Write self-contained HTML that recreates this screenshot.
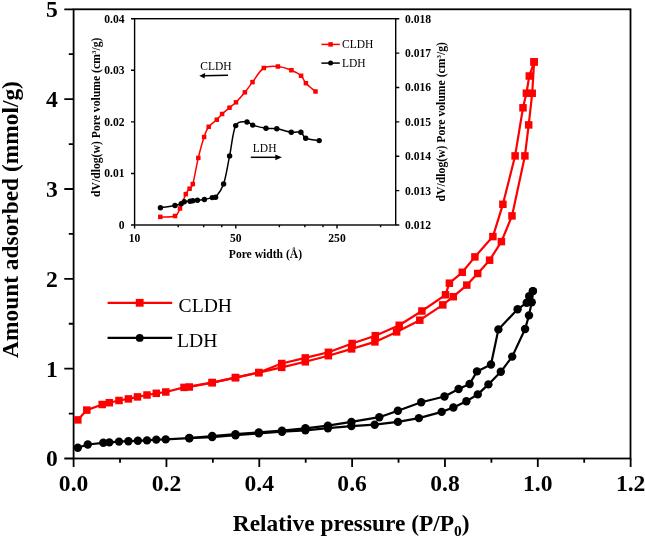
<!DOCTYPE html><html><head><meta charset="utf-8"><style>html,body{margin:0;padding:0;background:#fff;width:645px;height:539px;overflow:hidden}svg{display:block;will-change:transform}text{font-family:"Liberation Serif",serif}.b{font-weight:bold}</style></head><body>
<svg width="645" height="539" viewBox="0 0 645 539">
<rect width="645" height="539" fill="#fff"/>
<rect x="73.6" y="9.3" width="556.9" height="449.2" fill="none" stroke="#000" stroke-width="1.8"/>
<path d="M73.60,458.5V467.0 M120.02,458.5V462.7 M166.44,458.5V467.0 M212.86,458.5V462.7 M259.28,458.5V467.0 M305.70,458.5V462.7 M352.12,458.5V467.0 M398.54,458.5V462.7 M444.96,458.5V467.0 M491.38,458.5V462.7 M537.80,458.5V467.0 M584.22,458.5V462.7 M630.64,458.5V467.0 M73.6,458.50H64.3 M73.6,413.58H68.8 M73.6,368.66H64.3 M73.6,323.74H68.8 M73.6,278.82H64.3 M73.6,233.90H68.8 M73.6,188.98H64.3 M73.6,144.06H68.8 M73.6,99.14H64.3 M73.6,54.22H68.8 M73.6,9.30H64.3" stroke="#000" stroke-width="1.8" fill="none"/>
<text class="b" x="73.60" y="491.3" font-size="23.6" text-anchor="middle">0.0</text>
<text class="b" x="166.44" y="491.3" font-size="23.6" text-anchor="middle">0.2</text>
<text class="b" x="259.28" y="491.3" font-size="23.6" text-anchor="middle">0.4</text>
<text class="b" x="352.12" y="491.3" font-size="23.6" text-anchor="middle">0.6</text>
<text class="b" x="444.96" y="491.3" font-size="23.6" text-anchor="middle">0.8</text>
<text class="b" x="537.80" y="491.3" font-size="23.6" text-anchor="middle">1.0</text>
<text class="b" x="630.64" y="491.3" font-size="23.6" text-anchor="middle">1.2</text>
<text class="b" x="57.8" y="466.40" font-size="23.6" text-anchor="end">0</text>
<text class="b" x="57.8" y="376.56" font-size="23.6" text-anchor="end">1</text>
<text class="b" x="57.8" y="286.72" font-size="23.6" text-anchor="end">2</text>
<text class="b" x="57.8" y="196.88" font-size="23.6" text-anchor="end">3</text>
<text class="b" x="57.8" y="107.04" font-size="23.6" text-anchor="end">4</text>
<text class="b" x="57.8" y="17.20" font-size="23.6" text-anchor="end">5</text>
<text class="b" x="351.2" y="530.6" font-size="23.4" text-anchor="middle">Relative pressure (P/P<tspan font-size="15.5" dy="5.3">0</tspan><tspan dy="-5.3">)</tspan></text>
<text class="b" transform="translate(17.6,219.5) rotate(-90)" font-size="23.4" text-anchor="middle">Amount adsorbed (mmol/g)</text>
<path d="M107.6,302.8H172.2" stroke="#f00" stroke-width="2.2"/>
<rect x="135.80" y="298.90" width="7.8" height="7.8" fill="#f00"/>
<text x="178.6" y="312.4" font-size="19.6">CLDH</text>
<path d="M107.6,337.9H172.2" stroke="#000" stroke-width="2.2"/>
<circle cx="139.70" cy="337.90" r="3.9" fill="#000"/>
<text x="177.1" y="346.9" font-size="19.6">LDH</text>
<polyline points="77.8,419.9 86.8,410.1 102.2,404.5 109.3,402.7 119.0,400.5 128.4,398.9 137.5,396.9 147.0,395.0 156.3,393.3 165.8,392.0 184.0,387.4 212.2,382.6 235.5,377.6 258.8,372.6 281.7,367.4 305.3,361.8 328.4,355.7 351.6,348.9 374.9,341.9 396.6,331.9 419.8,320.2 442.8,304.9 453.3,296.7 466.8,285.1 477.7,273.5 489.6,260.2 501.4,241.6 512.0,215.9 524.9,155.9 528.7,124.9 532.2,93.3 534.1,61.9" fill="none" stroke="#f00" stroke-width="2.2" stroke-linejoin="round"/>
<polyline points="534.1,61.9 529.3,76.0 526.4,93.2 523.0,107.8 515.1,155.9 502.9,204.3 492.9,236.6 474.9,256.9 462.3,272.3 449.4,283.2 445.5,294.8 421.9,311.0 399.2,325.3 375.3,335.7 352.1,343.5 328.4,352.3 305.3,357.9 281.7,363.5 258.8,372.6 235.5,377.6 212.2,382.6 189.3,387.0" fill="none" stroke="#f00" stroke-width="2.2" stroke-linejoin="round"/>
<polyline points="77.8,447.7 87.8,444.5 103.3,442.8 109.3,442.4 119.0,441.6 128.4,441.2 137.9,440.8 147.0,440.4 156.3,439.6 165.7,439.4 189.3,438.2 212.2,437.1 235.5,435.2 258.8,433.4 282.0,431.7 305.4,430.3 327.9,428.2 351.4,426.1 374.7,424.7 397.9,421.9 418.9,418.1 441.7,411.9 453.4,407.5 466.4,401.3 477.8,394.4 488.4,384.4 500.8,371.8 512.2,356.6 525.1,329.0 529.0,315.4 531.7,302.3 532.9,291.1" fill="none" stroke="#000" stroke-width="2.2" stroke-linejoin="round"/>
<polyline points="532.9,291.1 529.2,296.2 526.7,302.8 517.6,309.2 498.4,329.4 491.0,364.5 477.0,371.4 469.6,384.0 458.6,389.0 444.5,396.5 421.2,402.3 397.9,410.7 379.3,417.2 351.4,421.9 327.9,425.7 305.4,428.3 282.0,430.6 258.8,432.4 235.5,434.2 212.2,436.0 189.3,438.0" fill="none" stroke="#000" stroke-width="2.2" stroke-linejoin="round"/>
<rect x="74.05" y="416.15" width="7.5" height="7.5" fill="#f00"/><rect x="83.05" y="406.35" width="7.5" height="7.5" fill="#f00"/><rect x="98.45" y="400.75" width="7.5" height="7.5" fill="#f00"/><rect x="105.55" y="398.95" width="7.5" height="7.5" fill="#f00"/><rect x="115.25" y="396.75" width="7.5" height="7.5" fill="#f00"/><rect x="124.65" y="395.15" width="7.5" height="7.5" fill="#f00"/><rect x="133.75" y="393.15" width="7.5" height="7.5" fill="#f00"/><rect x="143.25" y="391.25" width="7.5" height="7.5" fill="#f00"/><rect x="152.55" y="389.55" width="7.5" height="7.5" fill="#f00"/><rect x="162.05" y="388.25" width="7.5" height="7.5" fill="#f00"/><rect x="180.25" y="383.65" width="7.5" height="7.5" fill="#f00"/><rect x="208.45" y="378.85" width="7.5" height="7.5" fill="#f00"/><rect x="231.75" y="373.85" width="7.5" height="7.5" fill="#f00"/><rect x="255.05" y="368.85" width="7.5" height="7.5" fill="#f00"/><rect x="277.95" y="363.65" width="7.5" height="7.5" fill="#f00"/><rect x="301.55" y="358.05" width="7.5" height="7.5" fill="#f00"/><rect x="324.65" y="351.95" width="7.5" height="7.5" fill="#f00"/><rect x="347.85" y="345.15" width="7.5" height="7.5" fill="#f00"/><rect x="371.15" y="338.15" width="7.5" height="7.5" fill="#f00"/><rect x="392.85" y="328.15" width="7.5" height="7.5" fill="#f00"/><rect x="416.05" y="316.45" width="7.5" height="7.5" fill="#f00"/><rect x="439.05" y="301.15" width="7.5" height="7.5" fill="#f00"/><rect x="449.55" y="292.95" width="7.5" height="7.5" fill="#f00"/><rect x="463.05" y="281.35" width="7.5" height="7.5" fill="#f00"/><rect x="473.95" y="269.75" width="7.5" height="7.5" fill="#f00"/><rect x="485.85" y="256.45" width="7.5" height="7.5" fill="#f00"/><rect x="497.65" y="237.85" width="7.5" height="7.5" fill="#f00"/><rect x="508.25" y="212.15" width="7.5" height="7.5" fill="#f00"/><rect x="521.15" y="152.15" width="7.5" height="7.5" fill="#f00"/><rect x="524.95" y="121.15" width="7.5" height="7.5" fill="#f00"/><rect x="528.45" y="89.55" width="7.5" height="7.5" fill="#f00"/><rect x="530.35" y="58.15" width="7.5" height="7.5" fill="#f00"/>
<rect x="530.35" y="58.15" width="7.5" height="7.5" fill="#f00"/><rect x="525.55" y="72.25" width="7.5" height="7.5" fill="#f00"/><rect x="522.65" y="89.45" width="7.5" height="7.5" fill="#f00"/><rect x="519.25" y="104.05" width="7.5" height="7.5" fill="#f00"/><rect x="511.35" y="152.15" width="7.5" height="7.5" fill="#f00"/><rect x="499.15" y="200.55" width="7.5" height="7.5" fill="#f00"/><rect x="489.15" y="232.85" width="7.5" height="7.5" fill="#f00"/><rect x="471.15" y="253.15" width="7.5" height="7.5" fill="#f00"/><rect x="458.55" y="268.55" width="7.5" height="7.5" fill="#f00"/><rect x="445.65" y="279.45" width="7.5" height="7.5" fill="#f00"/><rect x="441.75" y="291.05" width="7.5" height="7.5" fill="#f00"/><rect x="418.15" y="307.25" width="7.5" height="7.5" fill="#f00"/><rect x="395.45" y="321.55" width="7.5" height="7.5" fill="#f00"/><rect x="371.55" y="331.95" width="7.5" height="7.5" fill="#f00"/><rect x="348.35" y="339.75" width="7.5" height="7.5" fill="#f00"/><rect x="324.65" y="348.55" width="7.5" height="7.5" fill="#f00"/><rect x="301.55" y="354.15" width="7.5" height="7.5" fill="#f00"/><rect x="277.95" y="359.75" width="7.5" height="7.5" fill="#f00"/><rect x="255.05" y="368.85" width="7.5" height="7.5" fill="#f00"/><rect x="231.75" y="373.85" width="7.5" height="7.5" fill="#f00"/><rect x="208.45" y="378.85" width="7.5" height="7.5" fill="#f00"/><rect x="185.55" y="383.25" width="7.5" height="7.5" fill="#f00"/>
<circle cx="77.80" cy="447.70" r="4.2" fill="#000"/><circle cx="87.80" cy="444.50" r="4.2" fill="#000"/><circle cx="103.30" cy="442.80" r="4.2" fill="#000"/><circle cx="109.30" cy="442.40" r="4.2" fill="#000"/><circle cx="119.00" cy="441.60" r="4.2" fill="#000"/><circle cx="128.40" cy="441.20" r="4.2" fill="#000"/><circle cx="137.90" cy="440.80" r="4.2" fill="#000"/><circle cx="147.00" cy="440.40" r="4.2" fill="#000"/><circle cx="156.30" cy="439.60" r="4.2" fill="#000"/><circle cx="165.70" cy="439.40" r="4.2" fill="#000"/><circle cx="189.30" cy="438.20" r="4.2" fill="#000"/><circle cx="212.20" cy="437.10" r="4.2" fill="#000"/><circle cx="235.50" cy="435.20" r="4.2" fill="#000"/><circle cx="258.80" cy="433.40" r="4.2" fill="#000"/><circle cx="282.00" cy="431.70" r="4.2" fill="#000"/><circle cx="305.40" cy="430.30" r="4.2" fill="#000"/><circle cx="327.90" cy="428.20" r="4.2" fill="#000"/><circle cx="351.40" cy="426.10" r="4.2" fill="#000"/><circle cx="374.70" cy="424.70" r="4.2" fill="#000"/><circle cx="397.90" cy="421.90" r="4.2" fill="#000"/><circle cx="418.90" cy="418.10" r="4.2" fill="#000"/><circle cx="441.70" cy="411.90" r="4.2" fill="#000"/><circle cx="453.40" cy="407.50" r="4.2" fill="#000"/><circle cx="466.40" cy="401.30" r="4.2" fill="#000"/><circle cx="477.80" cy="394.40" r="4.2" fill="#000"/><circle cx="488.40" cy="384.40" r="4.2" fill="#000"/><circle cx="500.80" cy="371.80" r="4.2" fill="#000"/><circle cx="512.20" cy="356.60" r="4.2" fill="#000"/><circle cx="525.10" cy="329.00" r="4.2" fill="#000"/><circle cx="529.00" cy="315.40" r="4.2" fill="#000"/><circle cx="531.70" cy="302.30" r="4.2" fill="#000"/><circle cx="532.90" cy="291.10" r="4.2" fill="#000"/>
<circle cx="532.90" cy="291.10" r="4.2" fill="#000"/><circle cx="529.20" cy="296.20" r="4.2" fill="#000"/><circle cx="526.70" cy="302.80" r="4.2" fill="#000"/><circle cx="517.60" cy="309.20" r="4.2" fill="#000"/><circle cx="498.40" cy="329.40" r="4.2" fill="#000"/><circle cx="491.00" cy="364.50" r="4.2" fill="#000"/><circle cx="477.00" cy="371.40" r="4.2" fill="#000"/><circle cx="469.60" cy="384.00" r="4.2" fill="#000"/><circle cx="458.60" cy="389.00" r="4.2" fill="#000"/><circle cx="444.50" cy="396.50" r="4.2" fill="#000"/><circle cx="421.20" cy="402.30" r="4.2" fill="#000"/><circle cx="397.90" cy="410.70" r="4.2" fill="#000"/><circle cx="379.30" cy="417.20" r="4.2" fill="#000"/><circle cx="351.40" cy="421.90" r="4.2" fill="#000"/><circle cx="327.90" cy="425.70" r="4.2" fill="#000"/><circle cx="305.40" cy="428.30" r="4.2" fill="#000"/><circle cx="282.00" cy="430.60" r="4.2" fill="#000"/><circle cx="258.80" cy="432.40" r="4.2" fill="#000"/><circle cx="235.50" cy="434.20" r="4.2" fill="#000"/><circle cx="212.20" cy="436.00" r="4.2" fill="#000"/><circle cx="189.30" cy="438.00" r="4.2" fill="#000"/>
<rect x="134.6" y="18.7" width="261.1" height="206.3" fill="none" stroke="#000" stroke-width="1.4"/>
<path d="M134.6,225.00H131.0 M134.6,173.43H131.0 M134.6,121.85H131.0 M134.6,70.27H131.0 M134.6,18.70H131.0 M395.7,225.00H399.3 M395.7,190.62H399.3 M395.7,156.23H399.3 M395.7,121.85H399.3 M395.7,87.47H399.3 M395.7,53.08H399.3 M395.7,18.70H399.3 M134.60,225.0V228.6 M235.80,225.0V228.6 M337.00,225.0V228.6 M178.18,225.0V227.2 M203.68,225.0V227.2 M221.77,225.0V227.2 M279.38,225.0V227.2 M304.88,225.0V227.2 M322.97,225.0V227.2 M380.58,225.0V227.2" stroke="#000" stroke-width="1.4" fill="none"/>
<text class="b" x="124.6" y="228.90" font-size="11.6" text-anchor="end">0</text>
<text class="b" x="124.6" y="177.33" font-size="11.6" text-anchor="end">0.01</text>
<text class="b" x="124.6" y="125.75" font-size="11.6" text-anchor="end">0.02</text>
<text class="b" x="124.6" y="74.17" font-size="11.6" text-anchor="end">0.03</text>
<text class="b" x="124.6" y="22.60" font-size="11.6" text-anchor="end">0.04</text>
<text class="b" x="405" y="228.90" font-size="11.6">0.012</text>
<text class="b" x="405" y="194.52" font-size="11.6">0.013</text>
<text class="b" x="405" y="160.13" font-size="11.6">0.014</text>
<text class="b" x="405" y="125.75" font-size="11.6">0.015</text>
<text class="b" x="405" y="91.37" font-size="11.6">0.016</text>
<text class="b" x="405" y="56.98" font-size="11.6">0.017</text>
<text class="b" x="405" y="22.60" font-size="11.6">0.018</text>
<text class="b" x="134.60" y="241.7" font-size="11.6" text-anchor="middle">10</text>
<text class="b" x="235.80" y="241.7" font-size="11.6" text-anchor="middle">50</text>
<text class="b" x="337.00" y="241.7" font-size="11.6" text-anchor="middle">250</text>
<text class="b" x="265.4" y="257.9" font-size="11.6" text-anchor="middle">Pore width (Å)</text>
<text class="b" transform="translate(100.1,117.3) rotate(-90)" font-size="11.7" text-anchor="middle">dV/dlog(w) Pore volume (cm<tspan font-size="7" dy="-4">3</tspan><tspan dy="4">/g)</tspan></text>
<text class="b" transform="translate(445.3,121.7) rotate(-90)" font-size="11.7" text-anchor="middle">dV/dlog(w) Pore volume (cm<tspan font-size="7" dy="-4">3</tspan><tspan dy="4">/g)</tspan></text>
<text x="200.3" y="69.7" font-size="11.5">CLDH</text>
<path d="M228,75.3L203.5,75.8" stroke="#000" stroke-width="1.4"/><path d="M199.3,75.8L205.2,72.9L204.6,78.6Z" fill="#000"/>
<text x="252.8" y="152.4" font-size="11.5">LDH</text>
<path d="M250.8,157.3H277" stroke="#000" stroke-width="1.5"/><path d="M281.9,157.3L275.3,154.4V160.2Z" fill="#000"/>
<path d="M321.4,44.4H339.8" stroke="#f00" stroke-width="1.5"/><rect x="328.35" y="42.15" width="4.5" height="4.5" fill="#f00"/>
<text x="342" y="47.9" font-size="11.5">CLDH</text>
<path d="M321.4,63.1H339.8" stroke="#000" stroke-width="1.5"/><circle cx="330.60" cy="63.10" r="2.5" fill="#000"/>
<text x="342" y="66.7" font-size="11.5">LDH</text>
<path d="M160.30,216.90C162.75,216.75 171.72,217.40 175.00,216.00C178.28,214.60 178.20,212.15 180.00,208.50C181.80,204.85 184.20,197.40 185.80,194.10C187.40,190.80 188.43,190.38 189.60,188.70C190.77,187.02 191.35,189.13 192.80,184.00C194.25,178.87 196.42,165.73 198.30,157.90C200.18,150.07 202.37,142.18 204.10,137.00C205.83,131.82 206.58,129.68 208.70,126.80C210.82,123.92 214.57,121.83 216.80,119.70C219.03,117.57 219.98,116.00 222.10,114.00C224.22,112.00 227.18,109.65 229.50,107.70C231.82,105.75 233.43,104.87 236.00,102.30C238.57,99.73 242.15,95.67 244.90,92.30C247.65,88.93 249.35,86.15 252.50,82.10C255.65,78.05 259.57,70.60 263.80,68.00C268.03,65.40 273.30,66.13 277.90,66.50C282.50,66.87 287.53,68.65 291.40,70.20C295.27,71.75 298.68,73.63 301.10,75.80C303.52,77.97 303.50,80.58 305.90,83.20C308.30,85.82 313.90,90.12 315.50,91.50" fill="none" stroke="#f00" stroke-width="1.5" stroke-linejoin="round"/>
<path d="M160.40,207.70C162.83,207.33 171.53,206.17 175.00,205.50C178.47,204.83 179.67,204.32 181.20,203.70C182.73,203.08 182.72,202.22 184.20,201.80C185.68,201.38 188.67,201.38 190.10,201.20C191.53,201.02 191.58,200.85 192.80,200.70C194.02,200.55 195.47,200.50 197.40,200.30C199.33,200.10 201.92,199.95 204.40,199.50C206.88,199.05 210.43,197.98 212.30,197.60C214.17,197.22 213.72,199.47 215.60,197.20C217.48,194.93 221.27,190.88 223.60,184.00C225.93,177.12 227.58,165.63 229.60,155.90C231.62,146.17 232.80,131.25 235.70,125.60C238.60,119.95 244.17,122.08 247.00,122.00C249.83,121.92 249.53,124.05 252.70,125.10C255.87,126.15 261.98,127.68 266.00,128.30C270.02,128.92 272.58,128.15 276.80,128.80C281.02,129.45 287.28,131.63 291.30,132.20C295.32,132.77 298.50,131.18 300.90,132.20C303.30,133.22 302.65,136.90 305.70,138.30C308.75,139.70 316.95,140.22 319.20,140.60" fill="none" stroke="#000" stroke-width="1.5" stroke-linejoin="round"/>
<rect x="158.05" y="214.65" width="4.5" height="4.5" fill="#f00"/><rect x="172.75" y="213.75" width="4.5" height="4.5" fill="#f00"/><rect x="177.75" y="206.25" width="4.5" height="4.5" fill="#f00"/><rect x="183.55" y="191.85" width="4.5" height="4.5" fill="#f00"/><rect x="187.35" y="186.45" width="4.5" height="4.5" fill="#f00"/><rect x="190.55" y="181.75" width="4.5" height="4.5" fill="#f00"/><rect x="196.05" y="155.65" width="4.5" height="4.5" fill="#f00"/><rect x="201.85" y="134.75" width="4.5" height="4.5" fill="#f00"/><rect x="206.45" y="124.55" width="4.5" height="4.5" fill="#f00"/><rect x="214.55" y="117.45" width="4.5" height="4.5" fill="#f00"/><rect x="219.85" y="111.75" width="4.5" height="4.5" fill="#f00"/><rect x="227.25" y="105.45" width="4.5" height="4.5" fill="#f00"/><rect x="233.75" y="100.05" width="4.5" height="4.5" fill="#f00"/><rect x="242.65" y="90.05" width="4.5" height="4.5" fill="#f00"/><rect x="250.25" y="79.85" width="4.5" height="4.5" fill="#f00"/><rect x="261.55" y="65.75" width="4.5" height="4.5" fill="#f00"/><rect x="275.65" y="64.25" width="4.5" height="4.5" fill="#f00"/><rect x="289.15" y="67.95" width="4.5" height="4.5" fill="#f00"/><rect x="298.85" y="73.55" width="4.5" height="4.5" fill="#f00"/><rect x="303.65" y="80.95" width="4.5" height="4.5" fill="#f00"/><rect x="313.25" y="89.25" width="4.5" height="4.5" fill="#f00"/>
<circle cx="160.40" cy="207.70" r="2.7" fill="#000"/><circle cx="175.00" cy="205.50" r="2.7" fill="#000"/><circle cx="181.20" cy="203.70" r="2.7" fill="#000"/><circle cx="184.20" cy="201.80" r="2.7" fill="#000"/><circle cx="190.10" cy="201.20" r="2.7" fill="#000"/><circle cx="192.80" cy="200.70" r="2.7" fill="#000"/><circle cx="197.40" cy="200.30" r="2.7" fill="#000"/><circle cx="204.40" cy="199.50" r="2.7" fill="#000"/><circle cx="212.30" cy="197.60" r="2.7" fill="#000"/><circle cx="215.60" cy="197.20" r="2.7" fill="#000"/><circle cx="223.60" cy="184.00" r="2.7" fill="#000"/><circle cx="229.60" cy="155.90" r="2.7" fill="#000"/><circle cx="235.70" cy="125.60" r="2.7" fill="#000"/><circle cx="247.00" cy="122.00" r="2.7" fill="#000"/><circle cx="252.70" cy="125.10" r="2.7" fill="#000"/><circle cx="266.00" cy="128.30" r="2.7" fill="#000"/><circle cx="276.80" cy="128.80" r="2.7" fill="#000"/><circle cx="291.30" cy="132.20" r="2.7" fill="#000"/><circle cx="300.90" cy="132.20" r="2.7" fill="#000"/><circle cx="305.70" cy="138.30" r="2.7" fill="#000"/><circle cx="319.20" cy="140.60" r="2.7" fill="#000"/>
</svg></body></html>
